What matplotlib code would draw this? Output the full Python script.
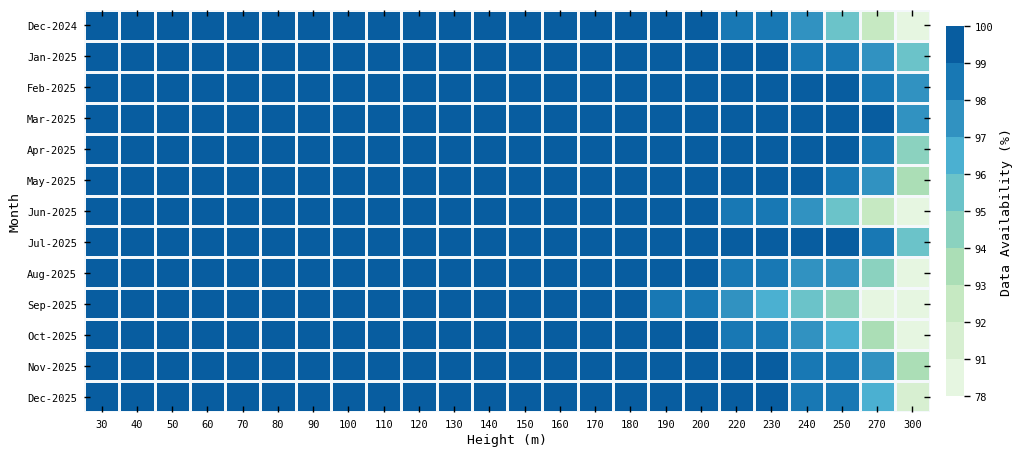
import numpy as np
import matplotlib.pyplot as plt
from matplotlib.colors import ListedColormap, BoundaryNorm

plt.rcParams['font.family'] = ['DejaVu Sans Mono']

months = ["Dec-2024", "Jan-2025", "Feb-2025", "Mar-2025", "Apr-2025", "May-2025",
          "Jun-2025", "Jul-2025", "Aug-2025", "Sep-2025", "Oct-2025", "Nov-2025", "Dec-2025"]
heights = [30, 40, 50, 60, 70, 80, 90, 100, 110, 120, 130, 140, 150, 160, 170, 180,
           190, 200, 220, 230, 240, 250, 270, 300]

# data availability (%) per month (rows) and height (columns)
availability = [
    [99.9, 99.9, 99.9, 99.9, 99.9, 99.9, 99.9, 99.9, 99.9, 99.9, 99.9, 99.9, 99.9, 99.9, 99.9, 99.9, 99.8, 99.6, 98.7, 98.4, 97.6, 95.4, 92.6, 89.3],
    [99.9, 99.9, 99.9, 99.9, 99.9, 99.9, 99.9, 99.9, 99.9, 99.9, 99.9, 99.9, 99.9, 99.9, 99.9, 99.9, 99.9, 99.8, 99.5, 99.3, 98.8, 98.3, 97.4, 95.2],
    [99.9, 99.9, 99.9, 99.9, 99.9, 99.9, 99.9, 99.9, 99.9, 99.9, 99.9, 99.9, 99.9, 99.9, 99.9, 99.9, 99.9, 99.9, 99.7, 99.6, 99.4, 99.2, 98.5, 97.8],
    [99.9, 99.9, 99.9, 99.9, 99.9, 99.9, 99.9, 99.9, 99.9, 99.9, 99.9, 99.9, 99.9, 99.9, 99.9, 99.9, 99.9, 99.9, 99.8, 99.7, 99.5, 99.3, 99.1, 97.6],
    [99.9, 99.9, 99.9, 99.9, 99.9, 99.9, 99.9, 99.9, 99.9, 99.9, 99.9, 99.9, 99.9, 99.9, 99.9, 99.9, 99.9, 99.9, 99.7, 99.6, 99.4, 99.1, 98.6, 94.3],
    [99.9, 99.9, 99.9, 99.9, 99.9, 99.9, 99.9, 99.9, 99.9, 99.9, 99.9, 99.9, 99.9, 99.9, 99.9, 99.9, 99.9, 99.8, 99.6, 99.4, 99.2, 98.7, 97.8, 93.6],
    [99.9, 99.9, 99.9, 99.9, 99.9, 99.9, 99.9, 99.9, 99.9, 99.9, 99.9, 99.9, 99.9, 99.9, 99.9, 99.9, 99.8, 99.6, 98.8, 98.5, 97.7, 95.6, 92.4, 90.1],
    [99.9, 99.9, 99.9, 99.9, 99.9, 99.9, 99.9, 99.9, 99.9, 99.9, 99.9, 99.9, 99.9, 99.9, 99.9, 99.9, 99.9, 99.8, 99.6, 99.5, 99.3, 99.2, 98.4, 95.7],
    [99.9, 99.9, 99.9, 99.9, 99.9, 99.9, 99.9, 99.9, 99.9, 99.9, 99.9, 99.9, 99.9, 99.9, 99.9, 99.9, 99.8, 99.5, 98.7, 98.2, 97.5, 97.2, 94.6, 88.5],
    [99.9, 99.9, 99.9, 99.9, 99.9, 99.9, 99.9, 99.9, 99.9, 99.9, 99.9, 99.9, 99.9, 99.9, 99.9, 99.7, 98.8, 98.6, 97.4, 96.6, 95.3, 94.5, 86.2, 83.5],
    [99.9, 99.9, 99.9, 99.9, 99.9, 99.9, 99.9, 99.9, 99.9, 99.9, 99.9, 99.9, 99.9, 99.9, 99.9, 99.9, 99.8, 99.6, 98.9, 98.5, 97.7, 96.4, 93.5, 89.7],
    [99.9, 99.9, 99.9, 99.9, 99.9, 99.9, 99.9, 99.9, 99.9, 99.9, 99.9, 99.9, 99.9, 99.9, 99.9, 99.9, 99.9, 99.8, 99.6, 99.5, 98.9, 98.6, 97.6, 93.4],
    [99.9, 99.9, 99.9, 99.9, 99.9, 99.9, 99.9, 99.9, 99.9, 99.9, 99.9, 99.9, 99.9, 99.9, 99.9, 99.9, 99.9, 99.8, 99.5, 99.5, 98.8, 98.4, 96.7, 91.4],
]

bounds = [78, 91, 92, 93, 94, 95, 96, 97, 98, 99, 100]

# discrete GnBu, ends trimmed
colors = plt.get_cmap('GnBu')(np.linspace(0, 1, 12)[1:-1])
cmap = ListedColormap(colors)
norm = BoundaryNorm(bounds, cmap.N)

data = np.array(availability)

fig = plt.figure(figsize=(10.24, 4.6), dpi=100)
ax = fig.add_axes([84 / 1024, 47 / 460, 846 / 1024, 402 / 460])
cax = fig.add_axes([946 / 1024, 63 / 460, 18 / 1024, 370 / 460])

mesh = ax.pcolormesh(np.arange(len(heights) + 1), np.arange(len(months) + 1), data,
                     cmap=cmap, norm=norm, edgecolors='#f4f8fb', linewidth=0.8)
ax.set_xlim(0, len(heights))
ax.set_ylim(len(months), 0)

ax.set_xticks(np.arange(len(heights)) + 0.5)
ax.set_xticklabels([str(h) for h in heights])
ax.set_yticks(np.arange(len(months)) + 0.5)
ax.set_yticklabels(months)
ax.tick_params(direction='in', top=True, right=True, length=4, width=1,
               labelsize=7.5, pad=5)
for s in ax.spines.values():
    s.set_visible(False)

ax.set_xlabel("Height (m)", fontsize=9.5, labelpad=3)
ax.set_ylabel("Month", fontsize=9.5, labelpad=4)

cb = fig.colorbar(mesh, cax=cax, ticks=bounds, spacing='uniform')
cb.outline.set_visible(False)
cb.ax.tick_params(labelsize=7.5, length=4, width=1)
cb.set_label("Data Availability (%)", fontsize=9.5, labelpad=5)

plt.savefig("out.png", dpi=100)
